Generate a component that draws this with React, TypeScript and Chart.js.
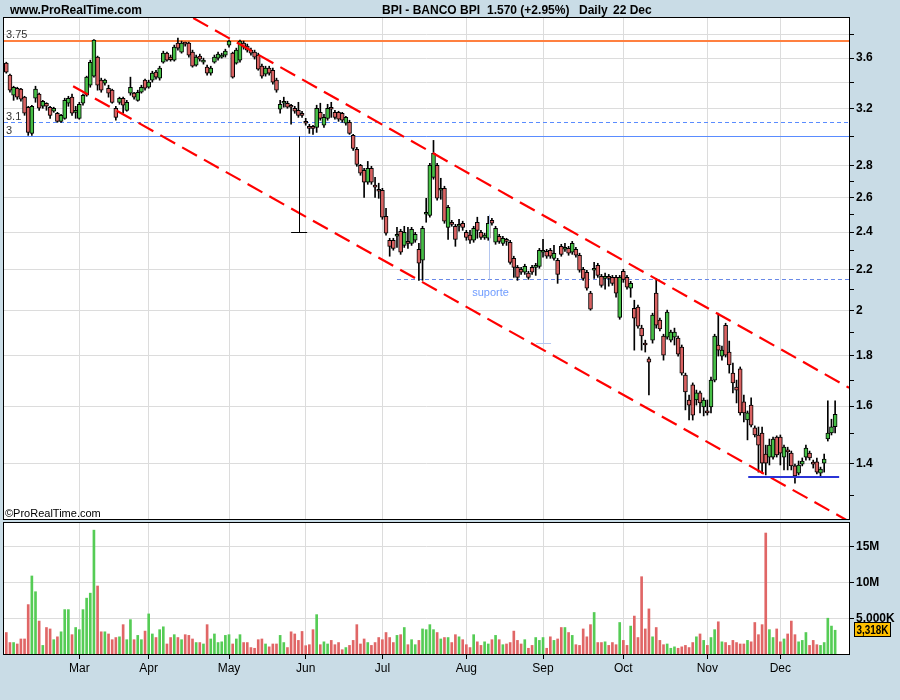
import React, { useEffect, useRef } from 'react';
import { Chart, registerables } from 'chart.js';

Chart.register(...registerables);

// ---------- data ----------
const OPEN = [
  3.558, 3.460, 3.302, 3.356, 3.349, 3.287, 3.211, 3.021, 3.279, 3.310,
  3.218, 3.241, 3.211, 3.181, 3.166, 3.107, 3.129, 3.241, 3.287, 3.173,
  3.129, 3.241, 3.302, 3.380, 3.452, 3.609, 3.420, 3.396, 3.356, 3.341,
  3.203, 3.248, 3.279, 3.188, 3.318, 3.318, 3.263, 3.325, 3.420, 3.364,
  3.420, 3.484, 3.436, 3.566, 3.642, 3.609, 3.583, 3.728, 3.651, 3.728,
  3.728, 3.651, 3.542, 3.617, 3.566, 3.525, 3.476, 3.566, 3.600, 3.609,
  3.626, 3.711, 3.642, 3.558, 3.583, 3.728, 3.702, 3.668, 3.651, 3.626,
  3.533, 3.468, 3.517, 3.500, 3.420, 3.196, 3.241, 3.241, 3.218, 3.203,
  3.188, 3.166, 3.100, 3.071, 3.064, 3.064, 3.173, 3.079, 3.129, 3.203,
  3.173, 3.173, 3.166, 3.093, 3.100, 3.007, 2.910, 2.805, 2.772, 2.696,
  2.785, 2.677, 2.652, 2.646, 2.490, 2.355, 2.355, 2.377, 2.405, 2.327,
  2.349, 2.338, 2.355, 2.306, 2.248, 2.502, 2.496, 2.727, 2.805, 2.646,
  2.658, 2.427, 2.456, 2.433, 2.433, 2.450, 2.399, 2.383, 2.355, 2.456,
  2.399, 2.371, 2.366, 2.467, 2.344, 2.377, 2.338, 2.355, 2.344, 2.258,
  2.211, 2.201, 2.186, 2.181, 2.211, 2.211, 2.216, 2.290, 2.295, 2.301,
  2.258, 2.248, 2.322, 2.306, 2.311, 2.290, 2.306, 2.274, 2.201, 2.186,
  2.082, 2.196, 2.221, 2.165, 2.155, 2.160, 2.160, 2.160, 1.968, 2.191,
  2.160, 2.106, 2.010, 2.015, 1.919, 1.853, 1.786, 1.866, 2.082, 1.955,
  1.884, 1.879, 1.866, 1.879, 1.875, 1.836, 1.720, 1.623, 1.681, 1.623,
  1.650, 1.597, 1.582, 1.597, 1.700, 1.845, 1.798, 1.932, 1.815, 1.728,
  1.673, 1.745, 1.616, 1.549, 1.604, 1.521, 1.496, 1.503, 1.431, 1.421,
  1.421, 1.489, 1.489, 1.421, 1.445, 1.434, 1.392, 1.369, 1.398, 1.421,
  1.434, 1.401, 1.405, 1.369, 1.401, 1.482, 1.503, 1.525,
];

const HIGH = [
  3.566, 3.468, 3.372, 3.364, 3.356, 3.294, 3.218, 3.226, 3.372, 3.318,
  3.263, 3.245, 3.218, 3.211, 3.173, 3.158, 3.279, 3.294, 3.310, 3.218,
  3.248, 3.310, 3.452, 3.583, 3.760, 3.617, 3.436, 3.428, 3.380, 3.349,
  3.218, 3.287, 3.287, 3.263, 3.444, 3.325, 3.341, 3.380, 3.428, 3.420,
  3.492, 3.500, 3.533, 3.659, 3.651, 3.626, 3.711, 3.773, 3.746, 3.737,
  3.737, 3.668, 3.626, 3.634, 3.600, 3.542, 3.533, 3.626, 3.651, 3.642,
  3.676, 3.755, 3.651, 3.685, 3.755, 3.746, 3.720, 3.685, 3.668, 3.642,
  3.550, 3.533, 3.533, 3.517, 3.436, 3.263, 3.287, 3.256, 3.233, 3.218,
  3.248, 3.181, 3.129, 3.086, 3.079, 3.226, 3.241, 3.158, 3.233, 3.248,
  3.188, 3.181, 3.173, 3.144, 3.115, 3.014, 2.924, 2.811, 2.785, 2.830,
  2.798, 2.727, 2.690, 2.658, 2.537, 2.366, 2.366, 2.427, 2.416, 2.433,
  2.427, 2.427, 2.399, 2.338, 2.433, 2.597, 2.817, 2.972, 2.817, 2.721,
  2.671, 2.555, 2.467, 2.444, 2.473, 2.462, 2.410, 2.410, 2.433, 2.485,
  2.410, 2.394, 2.490, 2.479, 2.433, 2.388, 2.377, 2.366, 2.355, 2.269,
  2.221, 2.211, 2.227, 2.191, 2.221, 2.232, 2.311, 2.360, 2.306, 2.311,
  2.327, 2.258, 2.333, 2.338, 2.322, 2.349, 2.316, 2.285, 2.211, 2.196,
  2.091, 2.237, 2.232, 2.175, 2.181, 2.175, 2.170, 2.170, 2.170, 2.201,
  2.170, 2.140, 2.048, 2.025, 1.932, 1.866, 1.794, 1.987, 2.155, 1.964,
  1.892, 2.001, 1.910, 1.919, 1.884, 1.845, 1.728, 1.642, 1.689, 1.661,
  1.657, 1.631, 1.623, 1.712, 1.892, 1.987, 1.840, 1.941, 1.862, 1.769,
  1.700, 1.753, 1.642, 1.582, 1.631, 1.528, 1.524, 1.524, 1.461, 1.482,
  1.489, 1.493, 1.496, 1.461, 1.454, 1.441, 1.398, 1.408, 1.418, 1.461,
  1.441, 1.411, 1.418, 1.388, 1.431, 1.620, 1.552, 1.620,
];

const LOW = [
  3.476, 3.325, 3.263, 3.271, 3.256, 3.151, 3.007, 3.007, 3.248, 3.188,
  3.203, 3.188, 3.129, 3.173, 3.100, 3.100, 3.122, 3.218, 3.151, 3.129,
  3.122, 3.226, 3.294, 3.364, 3.444, 3.341, 3.325, 3.380, 3.287, 3.241,
  3.115, 3.233, 3.166, 3.181, 3.302, 3.271, 3.256, 3.318, 3.341, 3.356,
  3.404, 3.428, 3.420, 3.558, 3.575, 3.575, 3.575, 3.668, 3.642, 3.702,
  3.609, 3.525, 3.533, 3.575, 3.550, 3.460, 3.460, 3.558, 3.583, 3.600,
  3.609, 3.693, 3.436, 3.550, 3.566, 3.676, 3.651, 3.626, 3.592, 3.500,
  3.436, 3.452, 3.460, 3.388, 3.325, 3.166, 3.211, 3.203, 3.086, 3.166,
  3.136, 3.136, 3.079, 3.021, 3.014, 3.028, 3.115, 3.064, 3.115, 3.136,
  3.122, 3.107, 3.100, 3.079, 3.014, 2.904, 2.798, 2.740, 2.603, 2.683,
  2.683, 2.603, 2.597, 2.473, 2.383, 2.269, 2.301, 2.316, 2.279, 2.316,
  2.311, 2.327, 2.344, 2.145, 2.145, 2.456, 2.485, 2.715, 2.585, 2.591,
  2.450, 2.360, 2.433, 2.322, 2.405, 2.410, 2.355, 2.338, 2.344, 2.366,
  2.360, 2.360, 2.355, 2.439, 2.333, 2.338, 2.327, 2.327, 2.227, 2.160,
  2.145, 2.175, 2.175, 2.150, 2.175, 2.170, 2.206, 2.264, 2.258, 2.258,
  2.248, 2.130, 2.269, 2.295, 2.274, 2.279, 2.264, 2.186, 2.145, 2.096,
  2.001, 2.155, 2.160, 2.111, 2.101, 2.116, 2.120, 2.062, 1.959, 2.135,
  2.101, 2.062, 1.823, 1.919, 1.823, 1.815, 1.642, 1.853, 1.919, 1.906,
  1.781, 1.870, 1.858, 1.845, 1.798, 1.720, 1.586, 1.549, 1.549, 1.604,
  1.575, 1.564, 1.567, 1.575, 1.693, 1.798, 1.781, 1.794, 1.728, 1.650,
  1.612, 1.567, 1.542, 1.479, 1.524, 1.489, 1.372, 1.369, 1.363, 1.395,
  1.414, 1.421, 1.395, 1.379, 1.379, 1.379, 1.337, 1.363, 1.392, 1.411,
  1.411, 1.385, 1.366, 1.356, 1.372, 1.475, 1.496, 1.503,
];

const CLOSE = [
  3.484, 3.341, 3.364, 3.287, 3.271, 3.166, 3.028, 3.218, 3.349, 3.203,
  3.256, 3.218, 3.151, 3.203, 3.107, 3.151, 3.263, 3.279, 3.166, 3.188,
  3.233, 3.302, 3.444, 3.566, 3.755, 3.380, 3.341, 3.420, 3.318, 3.248,
  3.136, 3.279, 3.226, 3.248, 3.364, 3.287, 3.325, 3.364, 3.356, 3.404,
  3.476, 3.444, 3.517, 3.642, 3.583, 3.588, 3.693, 3.685, 3.728, 3.720,
  3.626, 3.533, 3.609, 3.592, 3.583, 3.476, 3.517, 3.609, 3.634, 3.626,
  3.659, 3.746, 3.444, 3.668, 3.746, 3.693, 3.668, 3.642, 3.609, 3.508,
  3.452, 3.517, 3.476, 3.404, 3.341, 3.233, 3.248, 3.211, 3.211, 3.181,
  3.151, 3.151, 3.093, 3.057, 3.057, 3.203, 3.129, 3.136, 3.203, 3.196,
  3.136, 3.122, 3.115, 3.136, 3.021, 2.917, 2.811, 2.753, 2.696, 2.785,
  2.696, 2.665, 2.640, 2.485, 2.394, 2.322, 2.311, 2.388, 2.290, 2.399,
  2.338, 2.416, 2.388, 2.232, 2.422, 2.514, 2.805, 2.883, 2.597, 2.658,
  2.462, 2.543, 2.444, 2.360, 2.444, 2.427, 2.371, 2.355, 2.422, 2.410,
  2.371, 2.383, 2.450, 2.450, 2.422, 2.349, 2.366, 2.349, 2.237, 2.211,
  2.160, 2.186, 2.216, 2.160, 2.186, 2.221, 2.301, 2.295, 2.269, 2.269,
  2.285, 2.175, 2.279, 2.316, 2.285, 2.338, 2.274, 2.196, 2.155, 2.106,
  2.006, 2.206, 2.170, 2.120, 2.160, 2.155, 2.130, 2.082, 2.160, 2.150,
  2.111, 2.130, 1.964, 1.928, 1.884, 1.845, 1.773, 1.978, 1.932, 1.915,
  1.802, 1.992, 1.901, 1.901, 1.806, 1.728, 1.654, 1.604, 1.567, 1.650,
  1.612, 1.623, 1.575, 1.700, 1.884, 1.823, 1.823, 1.802, 1.761, 1.689,
  1.661, 1.575, 1.575, 1.575, 1.531, 1.496, 1.461, 1.401, 1.401, 1.461,
  1.482, 1.428, 1.434, 1.454, 1.438, 1.392, 1.360, 1.395, 1.408, 1.451,
  1.418, 1.398, 1.372, 1.382, 1.414, 1.503, 1.525, 1.570,
];

// volume in thousands of shares
const VOLUME = [
  3000, 1600, 1600, 1400, 2100, 2100, 6900, 10900, 8700, 4600,
  1200, 3700, 3500, 2000, 2400, 3100, 6200, 6200, 2700, 3700,
  3400, 6200, 7800, 8500, 17300, 9500, 3100, 3100, 2800, 2000,
  2300, 2400, 4100, 2000, 4800, 2000, 2600, 2000, 3200, 5600,
  2800, 2300, 3400, 3800, 1400, 2300, 2700, 2300, 2000, 2700,
  2600, 2100, 1600, 1600, 1400, 4100, 2100, 2800, 1600, 1700,
  2600, 2700, 1400, 2100, 2700, 1600, 1600, 900, 800, 2000,
  2100, 1400, 1000, 1400, 1400, 2600, 1600, 900, 3100, 2800,
  1900, 3150, 1160, 1300, 3400, 5500, 1300, 1700, 1400, 1900,
  1300, 1600, 600, 900, 1200, 1900, 4100, 1400, 2100, 1600,
  1200, 1600, 2300, 2000, 3000, 2300, 1600, 2600, 2700, 3700,
  1300, 2000, 1300, 1900, 3500, 3400, 4100, 3400, 3000, 2100,
  2300, 2300, 1600, 2700, 2400, 2000, 1300, 900, 2700, 1700,
  1200, 1700, 1400, 2000, 2600, 2000, 1300, 1400, 1600, 3200,
  1900, 1400, 2000, 800, 1200, 2300, 1900, 2300, 800, 2400,
  1900, 2100, 3700, 3700, 3000, 2600, 1300, 1200, 3500, 2400,
  4100, 5800, 1600, 1600, 1700, 1200, 1600, 1300, 4400, 1900,
  1200, 3900, 5300, 2300, 10800, 3500, 6300, 2400, 3700, 1900,
  1300, 1400, 800, 1000, 800, 1000, 1200, 900, 1600, 2400,
  2800, 1900, 1200, 2300, 3400, 4500, 1700, 1600, 1200, 1900,
  1600, 1400, 1400, 1900, 1700, 4400, 2700, 4100, 16900, 3400,
  2300, 3500, 1700, 2100, 2800, 4600, 2700, 1700, 1900, 3000,
  1200, 1900, 1300, 1200, 1600, 5000, 3900, 3318,
];

// first trading day of each month (index into the series) and its label
const MONTHS = ['Mar', 'Apr', 'May', 'Jun', 'Jul', 'Aug', 'Sep', 'Oct', 'Nov', 'Dec'];
const MONTH_INDEX = [20, 39, 61, 82, 103, 126, 147, 169, 192, 212];

// price axis
const PRICE_TICKS = [1.3, 1.4, 1.5, 1.6, 1.7, 1.8, 1.9, 2.0, 2.1, 2.2, 2.3, 2.4, 2.5, 2.6, 2.7, 2.8, 3.0, 3.2, 3.4, 3.6, 3.8];
const PRICE_GRID = [1.4, 1.6, 1.8, 2.0, 2.2, 2.4, 2.6, 2.8, 3.0, 3.2, 3.4, 3.6, 3.8];
const PRICE_LABELS = [1.4, 1.6, 1.8, 2.0, 2.2, 2.4, 2.6, 2.8, 3.2, 3.6];
const PRICE_RANGE = [1.23, 3.953];
const INDEX_RANGE = [-0.63, 230.8];

// volume axis (thousands)
const VOLUME_TICKS = [5000, 10000, 15000];
const VOLUME_RANGE = [0, 18300];

// drawn annotations (in data coordinates: series index, price)
const RESISTANCE_LEVEL = 3.75;
const DASHED_LEVEL = 3.1;
const SOLID_LEVEL = 3.0;
const SUPPORT_LEVEL = 2.15;
const SUPPORT_START = 107;
const FLOOR_LEVEL = 1.355;
const FLOOR_RANGE = [203.2, 228.1];
const CHANNEL_UPPER = [[51.2, 3.953], [230.8, 1.67]];
const CHANNEL_LOWER = [[18.3, 3.372], [230.8, 1.223]];
const MEASURE_BLACK = { x: 80.2, from: 3.0, to: 2.4, foot: [78.0, 82.4] };
const MEASURE_BLUE_A = { x: 132.2, from: 2.5, to: 2.15 };
const MEASURE_BLUE_B = { x: 147.1, from: 2.15, to: 1.855, foot: [145.1, 149.2] };
const SUPPORT_LABEL = { x: 127.6, y: 2.067, text: 'suporte' };

const TITLE_SITE = 'www.ProRealTime.com';
const TITLE_NAME = 'BPI - BANCO BPI';
const TITLE_PRICE = '1.570 (+2.95%)';
const TITLE_PERIOD = 'Daily';
const TITLE_DATE = '22 Dec';
const COPYRIGHT = '\u00A9ProRealTime.com';

// ---------- styles ----------
const FONT = "'Liberation Sans', Arial, Helvetica, sans-serif";
const BG = '#c9dce6';
const GRID = '#dcdcdc';
const CANDLE_UP = '#46bf46';
const CANDLE_DOWN = '#d96262';
const VOL_UP = '#55cc55';
const VOL_DOWN = '#e06666';

const near = (list: number[], v: number) => list.some((g) => Math.abs(g - v) < 1e-6);

function drawSeg(ctx: CanvasRenderingContext2D, x1: number, y1: number, x2: number, y2: number, color: string, width: number, dash: number[] = []) {
  ctx.save();
  ctx.strokeStyle = color;
  ctx.lineWidth = width;
  ctx.setLineDash(dash);
  ctx.beginPath();
  ctx.moveTo(x1, y1);
  ctx.lineTo(x2, y2);
  ctx.stroke();
  ctx.restore();
}

const pricePlugin = {
  id: 'priceDecor',
  beforeDraw(chart: any) {
    const { ctx, chartArea: a } = chart;
    ctx.save();
    ctx.fillStyle = BG;
    ctx.fillRect(0, 0, chart.width, chart.height);
    ctx.fillStyle = '#ffffff';
    ctx.fillRect(a.left, a.top, a.right - a.left, a.bottom - a.top);
    ctx.restore();
  },
  beforeDatasetsDraw(chart: any) {
    const { ctx, chartArea: a, scales } = chart;
    const ys = scales.y;
    const xs = scales.x;
    ctx.save();
    ctx.beginPath();
    ctx.rect(a.left, a.top, a.right - a.left, a.bottom - a.top);
    ctx.clip();
    const yr = Math.round(ys.getPixelForValue(RESISTANCE_LEVEL));
    drawSeg(ctx, a.left, yr, a.right, yr, '#ff8040', 2);
    const yd = Math.round(ys.getPixelForValue(DASHED_LEVEL)) + 0.5;
    drawSeg(ctx, a.left, yd, a.right, yd, '#5a8cff', 1, [4, 3]);
    const ysol = Math.round(ys.getPixelForValue(SOLID_LEVEL)) + 0.5;
    drawSeg(ctx, a.left, ysol, a.right, ysol, '#5a8cff', 1);
    const ysup = Math.round(ys.getPixelForValue(SUPPORT_LEVEL)) + 0.5;
    drawSeg(ctx, xs.getPixelForValue(SUPPORT_START), ysup, a.right, ysup, '#6a8ae8', 1, [4, 3]);
    // level labels
    ctx.fillStyle = '#333333';
    ctx.font = `11px ${FONT}`;
    ctx.textBaseline = 'alphabetic';
    ctx.textAlign = 'left';
    ctx.fillText('3.75', a.left + 2, yr - 3);
    ctx.fillText('3.1', a.left + 2, yd - 3);
    ctx.fillText('3', a.left + 2, ysol - 3);
    ctx.restore();
  },
  afterDatasetsDraw(chart: any) {
    const { ctx, chartArea: a, scales } = chart;
    const xs = scales.x;
    const ys = scales.y;
    const P = (i: number, p: number) => [xs.getPixelForValue(i), ys.getPixelForValue(p)];
    ctx.save();
    ctx.beginPath();
    ctx.rect(a.left, a.top, a.right - a.left, a.bottom - a.top);
    ctx.clip();
    // channel
    for (const line of [CHANNEL_UPPER, CHANNEL_LOWER]) {
      const [x1, y1] = P(line[0][0], line[0][1]);
      const [x2, y2] = P(line[1][0], line[1][1]);
      drawSeg(ctx, x1, y1, x2, y2, '#ff0000', 2.2, [17, 8]);
    }
    // black measurement
    {
      const x = Math.round(xs.getPixelForValue(MEASURE_BLACK.x)) + 0.5;
      const y1 = ys.getPixelForValue(MEASURE_BLACK.from);
      const y2 = Math.round(ys.getPixelForValue(MEASURE_BLACK.to)) + 0.5;
      drawSeg(ctx, x, y1, x, y2, '#000000', 1);
      drawSeg(ctx, xs.getPixelForValue(MEASURE_BLACK.foot[0]), y2, xs.getPixelForValue(MEASURE_BLACK.foot[1]), y2, '#000000', 1);
    }
    // pale blue measurements
    {
      const x = Math.round(xs.getPixelForValue(MEASURE_BLUE_A.x)) + 0.5;
      drawSeg(ctx, x, ys.getPixelForValue(MEASURE_BLUE_A.from), x, ys.getPixelForValue(MEASURE_BLUE_A.to), '#b4c6f0', 1);
      const xb = Math.round(xs.getPixelForValue(MEASURE_BLUE_B.x)) + 0.5;
      const yb2 = Math.round(ys.getPixelForValue(MEASURE_BLUE_B.to)) + 0.5;
      drawSeg(ctx, xb, ys.getPixelForValue(MEASURE_BLUE_B.from), xb, yb2, '#b4c6f0', 1);
      drawSeg(ctx, xs.getPixelForValue(MEASURE_BLUE_B.foot[0]), yb2, xs.getPixelForValue(MEASURE_BLUE_B.foot[1]), yb2, '#b4c6f0', 1);
    }
    // floor line
    {
      const y = Math.round(ys.getPixelForValue(FLOOR_LEVEL));
      drawSeg(ctx, xs.getPixelForValue(FLOOR_RANGE[0]), y, xs.getPixelForValue(FLOOR_RANGE[1]), y, '#2a34d6', 2);
    }
    // support label
    {
      const [x, y] = P(SUPPORT_LABEL.x, SUPPORT_LABEL.y);
      ctx.fillStyle = '#6f9cff';
      ctx.font = `11px ${FONT}`;
      ctx.textAlign = 'left';
      ctx.textBaseline = 'alphabetic';
      ctx.fillText(SUPPORT_LABEL.text, x, y);
    }
    ctx.restore();
  },
  afterDraw(chart: any) {
    const { ctx, chartArea: a } = chart;
    ctx.save();
    ctx.strokeStyle = '#000000';
    ctx.lineWidth = 1;
    ctx.strokeRect(a.left - 0.5, a.top - 0.5, a.right - a.left + 1, a.bottom - a.top + 1);
    ctx.fillStyle = '#000000';
    ctx.textBaseline = 'alphabetic';
    ctx.textAlign = 'left';
    ctx.font = `bold 12px ${FONT}`;
    ctx.fillText(TITLE_SITE, 10, 14);
    ctx.fillText(TITLE_NAME, 382, 14);
    ctx.fillText(TITLE_PRICE, 487, 14);
    ctx.fillText(TITLE_PERIOD, 579, 14);
    ctx.fillText(TITLE_DATE, 613, 14);
    ctx.font = `11px ${FONT}`;
    ctx.fillText(COPYRIGHT, a.left + 1, a.bottom - 2);
    ctx.restore();
  },
};

const volumePlugin = {
  id: 'volumeDecor',
  beforeDraw(chart: any) {
    const { ctx, chartArea: a } = chart;
    ctx.save();
    ctx.fillStyle = '#ffffff';
    ctx.fillRect(a.left, a.top, a.right - a.left, a.bottom - a.top);
    ctx.restore();
  },
  afterDraw(chart: any) {
    const { ctx, chartArea: a, scales } = chart;
    ctx.save();
    ctx.strokeStyle = '#000000';
    ctx.lineWidth = 1;
    ctx.strokeRect(a.left - 0.5, a.top - 0.5, a.right - a.left + 1, a.bottom - a.top + 1);
    // last volume marker
    const last = VOLUME[VOLUME.length - 1];
    const y = Math.round(scales.y.getPixelForValue(last));
    const text = last.toLocaleString('en-US') + 'K';
    const x0 = a.right + 5;
    const w = 37;
    ctx.fillStyle = '#ffc000';
    ctx.fillRect(x0, y - 8, w, 15);
    ctx.strokeRect(x0 + 0.5, y - 7.5, w - 1, 14);
    ctx.fillStyle = '#000000';
    ctx.font = `bold 12px ${FONT}`;
    ctx.textAlign = 'center';
    ctx.textBaseline = 'middle';
    ctx.fillText(text, x0 + w / 2, y + 0.5, w - 5);
    ctx.restore();
  },
};

export default function App() {
  const priceRef = useRef<HTMLCanvasElement | null>(null);
  const volRef = useRef<HTMLCanvasElement | null>(null);

  useEffect(() => {
    const idx = CLOSE.map((_, i) => i);
    const up = idx.map((i) => CLOSE[i] >= OPEN[i]);
    const bodyData = idx.map((i) => ({ x: i, y: [OPEN[i], CLOSE[i]] }));
    const wickData = idx.map((i) => ({ x: i, y: [LOW[i], HIGH[i]] }));
    const volData = idx.map((i) => ({ x: i, y: VOLUME[i] }));
    const monthLabel = (v: any) => {
      const k = MONTH_INDEX.indexOf(Math.round(Number(v)));
      return k >= 0 ? MONTHS[k] : '';
    };
    const setMonthTicks = (s: any) => {
      s.ticks = MONTH_INDEX.map((v) => ({ value: v }));
    };

    const priceChart = new Chart(priceRef.current as HTMLCanvasElement, {
      type: 'bar',
      data: {
        datasets: [
          {
            label: 'body',
            data: bodyData as any,
            backgroundColor: up.map((u) => (u ? CANDLE_UP : CANDLE_DOWN)),
            borderColor: '#000000',
            borderWidth: 1,
            borderSkipped: false,
            barThickness: 4,
            minBarLength: 2,
            stack: 'candle',
            order: 1,
          } as any,
          {
            label: 'wick',
            data: wickData as any,
            backgroundColor: '#000000',
            borderWidth: 0,
            barThickness: 1,
            stack: 'candle',
            order: 2,
          } as any,
        ],
      },
      options: {
        responsive: false,
        maintainAspectRatio: false,
        animation: false,
        devicePixelRatio: 1,
        layout: { padding: { left: 4, top: 18, right: 0, bottom: 181 } },
        plugins: { legend: { display: false }, tooltip: { enabled: false }, title: { display: false } },
        scales: {
          x: {
            type: 'linear',
            min: INDEX_RANGE[0],
            max: INDEX_RANGE[1],
            offset: false,
            stacked: true,
            afterBuildTicks: setMonthTicks,
            afterFit: (s: any) => { s.height = 0; },
            ticks: { display: false },
            grid: { color: GRID, drawTicks: false, offset: false },
            border: { display: false },
          } as any,
          y: {
            type: 'logarithmic',
            position: 'right',
            min: PRICE_RANGE[0],
            max: PRICE_RANGE[1],
            stacked: false,
            afterBuildTicks: (s: any) => { s.ticks = PRICE_TICKS.map((v) => ({ value: v })); },
            afterFit: (s: any) => { s.width = 51; },
            grid: {
              color: (c: any) => (c.tick && near(PRICE_GRID, c.tick.value) ? GRID : 'rgba(0,0,0,0)'),
              tickColor: '#000000',
              tickLength: 5,
              drawTicks: true,
            },
            border: { display: false },
            ticks: {
              autoSkip: false,
              maxRotation: 0,
              padding: 2,
              color: '#000000',
              font: { family: FONT, size: 12, weight: 'bold' },
              callback: (v: any) => (near(PRICE_LABELS, Number(v)) ? String(Number(Number(v).toFixed(1))) : ''),
            },
          } as any,
        },
      },
      plugins: [pricePlugin],
    });

    const volumeChart = new Chart(volRef.current as HTMLCanvasElement, {
      type: 'bar',
      data: {
        datasets: [
          {
            label: 'volume',
            data: volData as any,
            backgroundColor: up.map((u) => (u ? VOL_UP : VOL_DOWN)),
            borderWidth: 0,
            barThickness: 2,
          } as any,
        ],
      },
      options: {
        responsive: false,
        maintainAspectRatio: false,
        animation: false,
        devicePixelRatio: 1,
        layout: { padding: { left: 4, top: 523, right: 0, bottom: 0 } },
        plugins: { legend: { display: false }, tooltip: { enabled: false }, title: { display: false } },
        scales: {
          x: {
            type: 'linear',
            min: INDEX_RANGE[0],
            max: INDEX_RANGE[1],
            offset: false,
            afterBuildTicks: setMonthTicks,
            afterFit: (s: any) => { s.height = 46; },
            ticks: {
              autoSkip: false,
              maxRotation: 0,
              padding: 2,
              color: '#000000',
              font: { family: FONT, size: 12 },
              callback: monthLabel,
            },
            grid: { color: GRID, tickColor: '#000000', tickLength: 5, drawTicks: true, offset: false },
            border: { display: false },
          } as any,
          y: {
            type: 'linear',
            position: 'right',
            min: VOLUME_RANGE[0],
            max: VOLUME_RANGE[1],
            afterBuildTicks: (s: any) => { s.ticks = VOLUME_TICKS.map((v) => ({ value: v })); },
            afterFit: (s: any) => { s.width = 51; },
            grid: { color: GRID, tickColor: '#000000', tickLength: 5, drawTicks: true },
            border: { display: false },
            ticks: {
              autoSkip: false,
              padding: 2,
              color: '#000000',
              font: { family: FONT, size: 12, weight: 'bold' },
              callback: (v: any) => {
                const n = Number(v);
                return n >= 10000 ? `${n / 1000}M` : `${n.toLocaleString('en-US')}K`;
              },
            },
          } as any,
        },
      },
      plugins: [volumePlugin],
    });

    return () => {
      priceChart.destroy();
      volumeChart.destroy();
    };
  }, []);

  return (
    <div style={{ position: 'absolute', left: 0, top: 0, width: 900, height: 700, background: BG }}>
      <canvas ref={priceRef} width={900} height={700} style={{ position: 'absolute', left: 0, top: 0 }} />
      <canvas ref={volRef} width={900} height={700} style={{ position: 'absolute', left: 0, top: 0 }} />
    </div>
  );
}
